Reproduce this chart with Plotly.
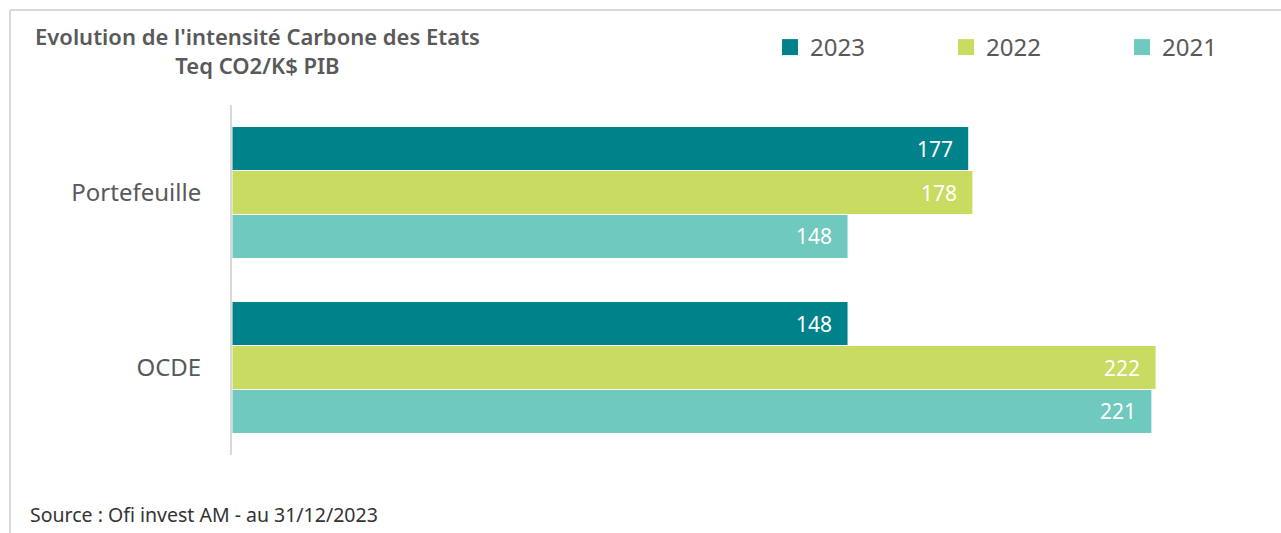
import plotly.graph_objects as go

categories = ["Portefeuille", "OCDE"]
years = ["2023", "2022", "2021"]
values_2023 = [177, 148]
values_2022 = [178, 222]
values_2021 = [148, 221]
series = [values_2023, values_2022, values_2021]
colors = ["#00828A", "#CADB61", "#6FC9BE"]

W, H = 1281, 533
L, R, T, B = 232, 50, 105, 78
pw, ph = W - L - R, H - T - B
xmax = 240
bargap = 0.246

fig = go.Figure()
for name, vals, col in zip(years, series, colors):
    fig.add_trace(go.Bar(
        y=categories, x=vals, name=name, orientation="h",
        marker=dict(color=col, line=dict(color="white", width=1)),
        hoverinfo="x+name", showlegend=False, legendgroup=name,
    ))
# legend entries (larger square swatches, like the reference)
for name, col in zip(years, colors):
    fig.add_trace(go.Scatter(
        x=[None], y=[None], mode="markers", name=name, legendgroup=name,
        marker=dict(symbol="square", size=16, color=col),
        showlegend=True, hoverinfo="skip",
    ))

bw = (1 - bargap) / len(years)
annotations = []
for i, vals in enumerate(series):
    off = (i - 1) * bw
    for j, v in enumerate(vals):
        annotations.append(dict(
            x=v, y=j + off, xref="x", yref="y", text=str(v), showarrow=False,
            xanchor="right", yanchor="middle", xshift=-14,
            font=dict(family="Noto Sans", size=21, color="white"),
        ))

def px_x(p):
    return (p - L) / pw

def px_y(p):
    return (H - B - p) / ph

annotations.append(dict(
    x=px_x(257), y=px_y(51), xref="paper", yref="paper", showarrow=False,
    text="Evolution de l'intensité Carbone des Etats<br>Teq CO2/K$ PIB",
    align="center", xanchor="center", yanchor="middle",
    font=dict(family="Noto Sans", size=22, color="#595959", weight=600),
))
annotations.append(dict(
    x=px_x(28), y=px_y(514), xref="paper", yref="paper", showarrow=False,
    text="Source : Ofi invest AM - au 31/12/2023",
    xanchor="left", yanchor="middle",
    font=dict(family="Noto Sans", size=19.5, color="#333333"),
))

shapes = [
    dict(type="line", xref="paper", yref="paper", x0=px_x(10), x1=px_x(W + 5),
         y0=px_y(10), y1=px_y(10), line=dict(color="#D9D9D9", width=2)),
    dict(type="line", xref="paper", yref="paper", x0=px_x(10), x1=px_x(10),
         y0=px_y(10), y1=px_y(H + 5), line=dict(color="#D9D9D9", width=2)),
]

fig.update_layout(
    width=W, height=H,
    margin=dict(l=L, r=R, t=T, b=B, autoexpand=False),
    barmode="group", bargap=bargap, bargroupgap=0,
    plot_bgcolor="white", paper_bgcolor="white",
    font=dict(family="Noto Sans", color="#595959"),
    xaxis=dict(range=[0, xmax], visible=False, showgrid=False, zeroline=False),
    yaxis=dict(
        autorange=False, range=[1.5, -0.5], showgrid=False, zeroline=False,
        showline=True, linecolor="#D9D9D9", linewidth=2,
        ticks="", ticklabelstandoff=24,
        tickfont=dict(family="Noto Sans", size=24, color="#595959"),
    ),
    showlegend=True,
    legend=dict(
        orientation="h", xref="container", yref="container",
        x=770 / W, y=1 - 25 / H, xanchor="left", yanchor="top",
        entrywidth=131, entrywidthmode="pixels", itemsizing="trace",
        font=dict(family="Noto Sans", size=24, color="#595959"),
        bgcolor="rgba(0,0,0,0)",
    ),
    annotations=annotations,
    shapes=shapes,
)

fig.write_html("out.html", config={"displayModeBar": False},
               post_script="document.body.style.margin='0';")
